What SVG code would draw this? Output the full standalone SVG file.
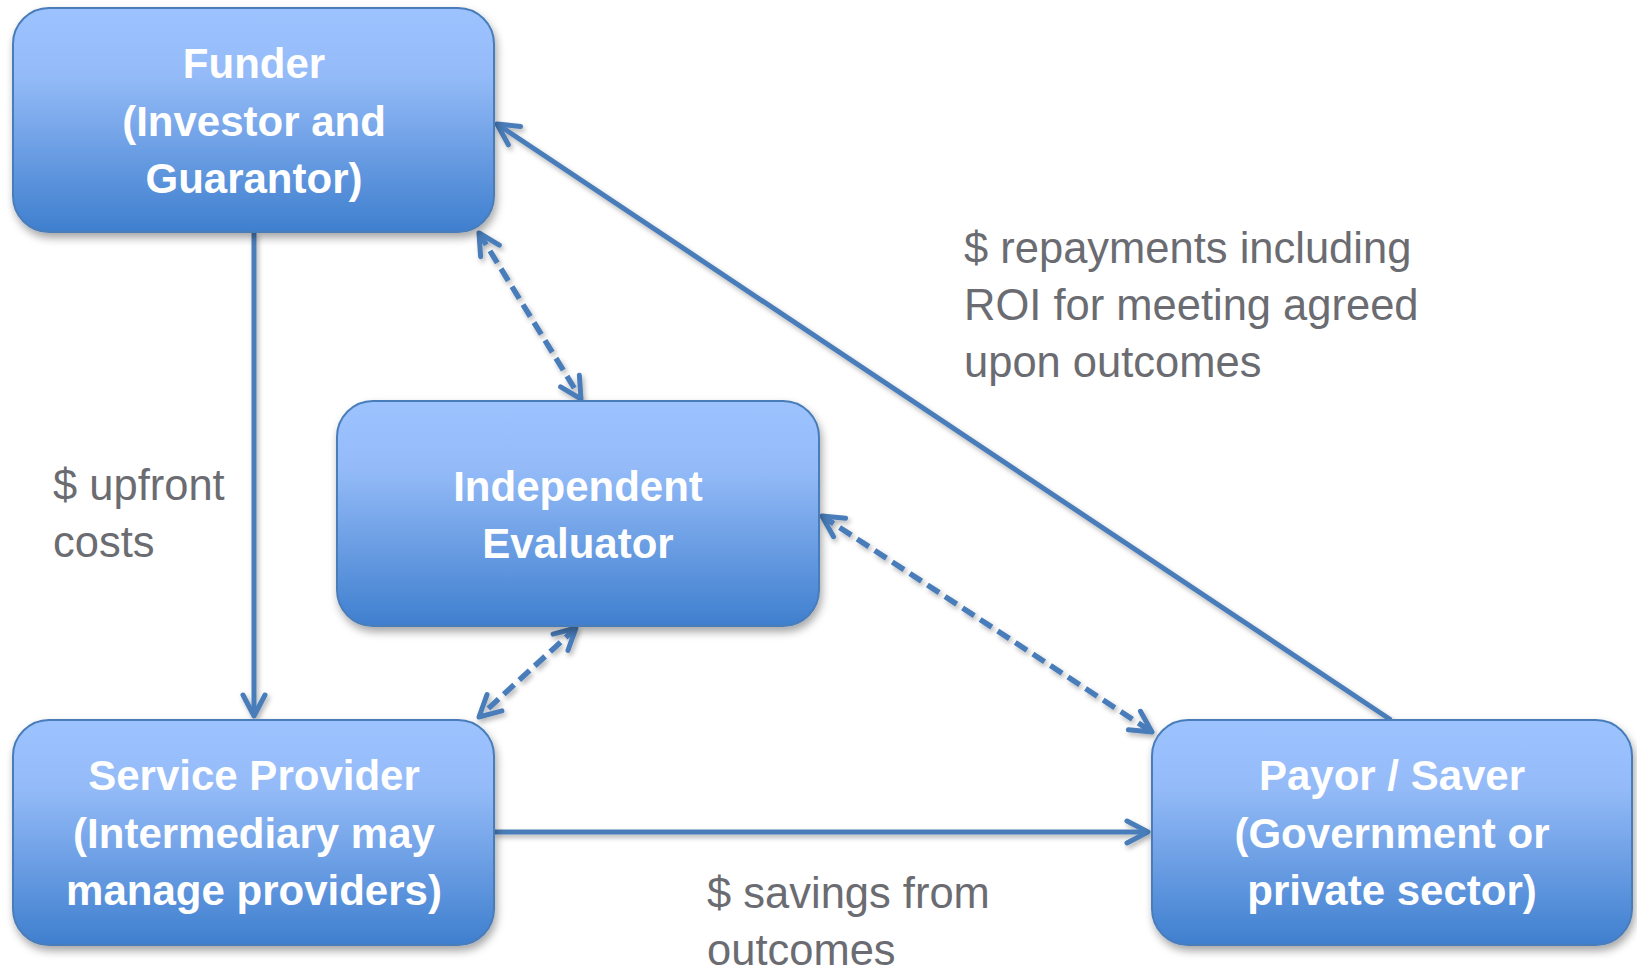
<svg xmlns="http://www.w3.org/2000/svg" width="1637" height="972" viewBox="0 0 1637 972">
  <defs>
    <linearGradient id="boxGrad" x1="0" y1="0" x2="0" y2="1">
      <stop offset="0" stop-color="#9DC3FF"/>
      <stop offset="0.3" stop-color="#94BBF8"/>
      <stop offset="1" stop-color="#3F7FCE"/>
    </linearGradient>
    <filter id="shadow" x="-10%" y="-10%" width="125%" height="130%">
      <feDropShadow dx="2" dy="5" stdDeviation="4" flood-color="#000" flood-opacity="0.35"/>
    </filter>
    <filter id="lineShadow" x="-10%" y="-10%" width="125%" height="130%">
      <feDropShadow dx="2" dy="3" stdDeviation="2.5" flood-color="#000" flood-opacity="0.3"/>
    </filter>
    <marker id="arrow" viewBox="-30 -16 36 32" refX="0" refY="0" markerWidth="36" markerHeight="32" markerUnits="userSpaceOnUse" orient="auto-start-reverse">
      <path d="M-21,-11 L0,0 L-21,11" fill="none" stroke="#4A7DBA" stroke-width="5" stroke-linecap="round" stroke-linejoin="round"/>
    </marker>
  </defs>
  <style>
    .box { fill: url(#boxGrad); stroke: #4A7DBA; stroke-width: 2; filter: url(#shadow); }
    .ntext { font-family: "Liberation Sans", Arial, sans-serif; font-weight: bold; font-size: 42px; fill: #FFFFFF; text-anchor: middle; }
    .ltext { font-family: "Liberation Sans", Arial, sans-serif; font-size: 43.5px; fill: #6B6C71; }
    .conn { fill: none; stroke: #4A7DBA; stroke-width: 5; }
    .dash { stroke-width: 5.5; stroke-dasharray: 14 7; }
  </style>
  <rect width="1637" height="972" fill="#FFFFFF"/>

  <g id="connectors" filter="url(#lineShadow)">
    <line class="conn" x1="254" y1="232" x2="254" y2="716" marker-end="url(#arrow)"/>
    <line class="conn" x1="1391" y1="720" x2="497" y2="124" marker-end="url(#arrow)"/>
    <line class="conn" x1="494" y1="832" x2="1148" y2="832" marker-end="url(#arrow)"/>
    <line class="conn dash" x1="479" y1="233" x2="581" y2="399" marker-start="url(#arrow)" marker-end="url(#arrow)"/>
    <line class="conn dash" x1="576" y1="628" x2="479" y2="717" marker-start="url(#arrow)" marker-end="url(#arrow)"/>
    <line class="conn dash" x1="822" y1="516" x2="1152" y2="732" marker-start="url(#arrow)" marker-end="url(#arrow)"/>
  </g>

  <g id="funder">
    <rect class="box" x="13" y="8" width="481" height="224" rx="36" ry="36"/>
    <text class="ntext" x="254" y="78">Funder</text>
    <text class="ntext" x="254" y="136">(Investor and</text>
    <text class="ntext" x="254" y="193">Guarantor)</text>
  </g>

  <g id="evaluator">
    <rect class="box" x="337" y="401" width="482" height="225" rx="36" ry="36"/>
    <text class="ntext" x="578" y="501">Independent</text>
    <text class="ntext" x="578" y="558">Evaluator</text>
  </g>

  <g id="service-provider">
    <rect class="box" x="13" y="720" width="481" height="225" rx="36" ry="36"/>
    <text class="ntext" x="254" y="790">Service Provider</text>
    <text class="ntext" x="254" y="848">(Intermediary may</text>
    <text class="ntext" x="254" y="905">manage providers)</text>
  </g>

  <g id="payor">
    <rect class="box" x="1152" y="720" width="480" height="225" rx="36" ry="36"/>
    <text class="ntext" x="1392" y="790">Payor / Saver</text>
    <text class="ntext" x="1392" y="848">(Government or</text>
    <text class="ntext" x="1392" y="905">private sector)</text>
  </g>

  <g id="labels">
    <text class="ltext" x="964" y="263">$ repayments including</text>
    <text class="ltext" x="964" y="320">ROI for meeting agreed</text>
    <text class="ltext" x="964" y="377">upon outcomes</text>
    <text class="ltext" x="53" y="500">$ upfront</text>
    <text class="ltext" x="53" y="557">costs</text>
    <text class="ltext" x="707" y="908">$ savings from</text>
    <text class="ltext" x="707" y="965">outcomes</text>
  </g>
</svg>
